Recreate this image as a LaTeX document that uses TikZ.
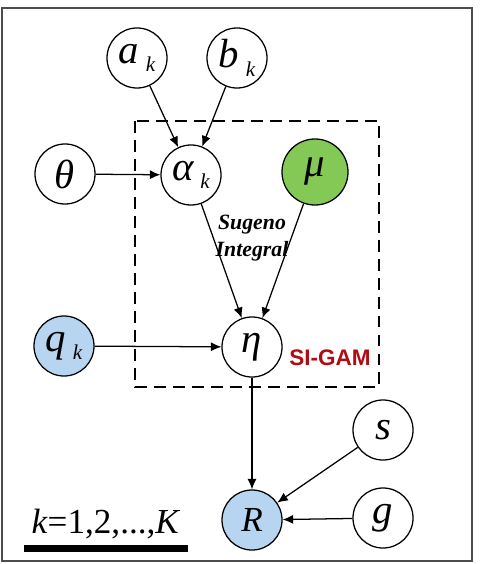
\documentclass[tikz,border=0pt]{standalone}
\usepackage{fontspec}
\setmainfont{Liberation Serif}
\setsansfont{Liberation Sans}
\usetikzlibrary{arrows.meta,backgrounds}
\definecolor{obscolor}{RGB}{183,213,240}
\definecolor{priorcolor}{RGB}{132,201,86}
\definecolor{gamcolor}{RGB}{176,12,20}
\newcommand{\edgewidth}{0.9pt}
\newcommand{\subk}{\,\raisebox{-6pt}{\fontsize{15}{15}\selectfont\itshape k}}

\begin{document}
\begin{tikzpicture}[x=0.025cm,y=-0.025cm,
  var/.style={circle,draw,line width=0.9pt,minimum size=1.5cm,inner sep=0pt,
    font=\fontsize{29}{29}\selectfont\itshape},
  edge/.style={-{Latex[length=7.5pt,width=6.5pt]},line width=\edgewidth}]
\useasboundingbox (0,0) rectangle (480,564);
\draw[line width=1.2pt,black!70] (2,8) rectangle (472,561);
%plate
\draw[line width=2pt,dash pattern=on 8.5pt off 5pt] (135,121) rectangle (379,387);
%variables
\node[var] (ak) at (137,58) {a\subk};
\node[var] (bk) at (237,58) {b\subk};
\node[var] (theta) at (65,174) {θ};
\node[var] (alpha) at (191,175) {α\subk};
\node[var,fill=priorcolor,minimum size=1.65cm] (mu) at (315,172) {μ};
\node[var,fill=obscolor] (qk) at (64,346) {q\subk};
\node[var] (eta) at (252,347) {η};
\node[var] (s) at (383,430) {s};
\node[var] (g) at (383,518) {g};
\node[var,fill=obscolor,font=\fontsize{25}{25}\selectfont\itshape] (R) at (252,520) {R};
%labels
\node[align=center,font=\fontsize{15.5}{19}\selectfont\bfseries\itshape] (sugeno) at (252,238) {Sugeno\\Integral};
\node[text=gamcolor,font=\fontsize{16}{16}\selectfont\sffamily\bfseries] (sigam) at (330,358) {SI-GAM};
\node[font=\fontsize{25}{25}\selectfont] (range) at (106,524) {\textit{k}=1,2,...,\textit{K}};
\fill (24,545) rectangle (188,552);
%edges
\draw[edge] (ak) -- (alpha);
\draw[edge] (bk) -- (alpha);
\draw[edge] (theta) -- (alpha);
\draw[edge] (alpha) -- (eta);
\draw[edge] (mu) -- (eta);
\draw[edge] (qk) -- (eta);
\draw[edge] (eta) -- (R);
\draw[edge] (s) -- (R);
\draw[edge] (g) -- (R);
\end{tikzpicture}
\end{document}
